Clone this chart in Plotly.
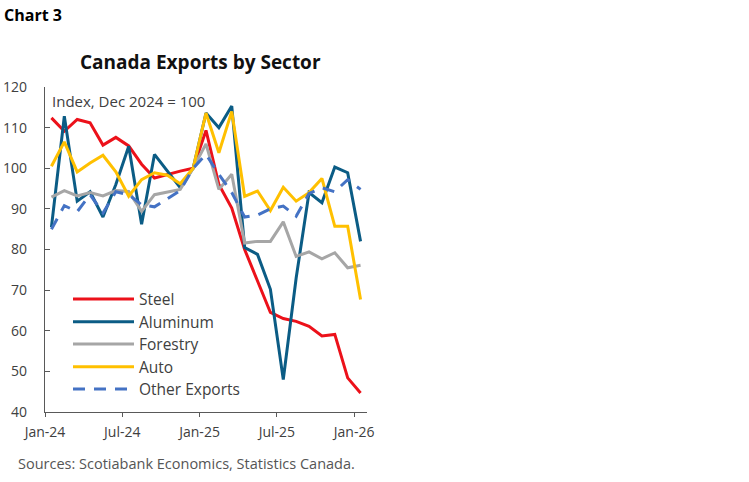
import plotly.graph_objects as go

months = ["Jan-24","Feb-24","Mar-24","Apr-24","May-24","Jun-24","Jul-24","Aug-24","Sep-24","Oct-24","Nov-24","Dec-24",
          "Jan-25","Feb-25","Mar-25","Apr-25","May-25","Jun-25","Jul-25","Aug-25","Sep-25","Oct-25","Nov-25","Dec-25","Jan-26"]

steel = [112.4, 109.1, 112.0, 111.2, 105.7, 107.6, 105.5, 101.0, 97.6, 98.5, 99.3, 100.0,
         109.3, 96.0, 90.2, 80.0, 72.2, 64.5, 63.0, 62.3, 61.1, 58.7, 59.1, 48.4, 44.7]
aluminum = [85.5, 112.8, 91.9, 94.2, 88.0, 96.0, 105.4, 86.2, 103.4, 99.4, 95.2, 100.0,
            113.6, 110.0, 115.3, 80.5, 78.8, 70.2, 48.0, 73.0, 94.0, 91.5, 100.3, 98.9, 82.0]
forestry = [92.9, 94.5, 93.2, 94.0, 93.2, 94.5, 94.3, 89.4, 93.5, 94.2, 94.8, 100.0,
            106.0, 94.8, 98.5, 81.6, 82.0, 82.0, 86.8, 78.3, 79.4, 77.7, 79.2, 75.5, 76.1]
auto = [100.5, 106.5, 99.1, 101.3, 103.2, 99.1, 93.1, 97.2, 98.9, 98.3, 96.2, 100.0,
        113.6, 103.8, 114.0, 93.1, 94.4, 89.6, 95.3, 91.9, 94.0, 97.5, 85.7, 85.7, 67.7]
other = [85.0, 90.8, 89.3, 93.5, 89.0, 94.2, 93.5, 91.0, 90.5, 92.5, 94.5, 100.0,
         103.4, 98.5, 94.0, 88.0, 88.5, 90.0, 90.7, 88.2, 93.8, 95.2, 94.2, 97.2, 94.8]

series_names = ["Steel", "Aluminum", "Forestry", "Auto", "Other Exports"]
series_values = [steel, aluminum, forestry, auto, other]
colors = ["#EC111A", "#0B5C85", "#A6A6A6", "#FFC000", "#4472C4"]
dashes = ["solid", "solid", "solid", "solid", "12px,9px"]

tick_labels = ["Jan-24", "Jul-24", "Jan-25", "Jul-25", "Jan-26"]
tick_pos = [months.index(t) - 0.5 for t in tick_labels]
y_ticks = [40, 50, 60, 70, 80, 90, 100, 110, 120]

FONT = "Open Sans"
TXT = "#404040"

x_idx = list(range(len(months)))
fig = go.Figure()
for name, vals, col, dsh in zip(series_names, series_values, colors, dashes):
    fig.add_trace(go.Scatter(x=x_idx, y=vals, mode="lines", name=name,
                             line=dict(color=col, width=3, dash=dsh),
                             customdata=months, hovertemplate="%{customdata}: %{y}<extra>" + name + "</extra>"))

fig.update_layout(
    width=749, height=482,
    margin=dict(l=45, r=382, t=87, b=70),
    plot_bgcolor="white", paper_bgcolor="white",
    showlegend=False,
    font=dict(family=FONT, size=14, color=TXT),
)
fig.update_xaxes(range=[-0.5, 24.5], tickvals=tick_pos, ticktext=tick_labels, automargin=False,
                 showgrid=False, zeroline=False, showline=True, linecolor="#595959", linewidth=1.3,
                 ticks="outside", ticklen=4, tickcolor="#595959", tickwidth=1.3,
                 ticklabelstandoff=3,
                 tickfont=dict(family=FONT, size=14, color=TXT))
fig.update_yaxes(range=[40, 120], tickvals=y_ticks, automargin=False,
                 showgrid=False, zeroline=False, showline=True, linecolor="#595959", linewidth=1.3,
                 ticks="inside", ticklen=5, tickcolor="#595959", tickwidth=1.3,
                 ticklabelstandoff=14,
                 tickfont=dict(family=FONT, size=14, color=TXT))

# Titles and notes
fig.add_annotation(text="<b>Chart 3</b>", xref="paper", yref="paper", x=-45/322, y=(412-15)/325,
                   xanchor="left", yanchor="middle", showarrow=False, xshift=2,
                   font=dict(family=FONT, size=16, color="#000000"))
fig.add_annotation(text="<b>Canada Exports by Sector</b>", xref="paper", yref="paper", x=(200-45)/322, y=(412-62)/325,
                   xanchor="center", yanchor="middle", showarrow=False,
                   font=dict(family=FONT, size=19, color="#111111"))
fig.add_annotation(text="Index, Dec 2024 = 100", xref="paper", yref="paper", x=(50-45)/322, y=(412-100.5)/325,
                   xanchor="left", yanchor="middle", showarrow=False,
                   font=dict(family=FONT, size=15, color=TXT))
fig.add_annotation(text="Sources: Scotiabank Economics, Statistics Canada.", xref="paper", yref="paper",
                   x=(16-45)/322, y=(412-463)/325, xanchor="left", yanchor="middle", showarrow=False,
                   font=dict(family=FONT, size=14.5, color="#555555"))

# Custom legend
leg_y = [299, 321.7, 344, 366.7, 389]
for name, col, dsh, py in zip(series_names, colors, dashes, leg_y):
    yp = (412 - py) / 325
    fig.add_shape(type="line", xref="paper", yref="paper", x0=(73-45)/322, x1=(134-45)/322, y0=yp, y1=yp,
                  line=dict(color=col, width=3, dash=dsh))
    fig.add_annotation(text=name, xref="paper", yref="paper", x=(137-45)/322, y=yp,
                       xanchor="left", yanchor="middle", showarrow=False,
                       font=dict(family=FONT, size=15.5, color=TXT))

fig.write_html("out.html", config={"displayModeBar": False},
               post_script="document.body.style.margin='0';")
